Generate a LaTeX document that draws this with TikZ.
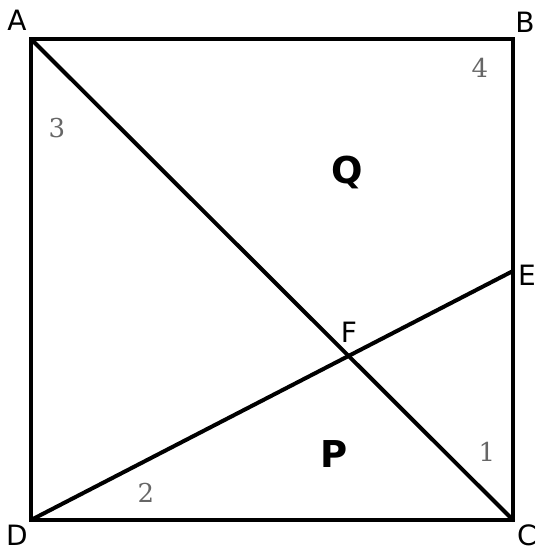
\documentclass[tikz,border=0pt]{standalone}
\usepackage{fontspec}
\setmainfont{DejaVu Sans}
\newfontfamily\numfont{DejaVu Serif}
\usetikzlibrary{calc,intersections}
\definecolor{numgray}{HTML}{666666}
\begin{document}
\begin{tikzpicture}[x=1pt,y=-1pt,
  edge/.style={line width=4pt,line cap=round,line join=miter},
  ptlabel/.style={font=\fontsize{28}{30}\selectfont,inner sep=0pt},
  region/.style={font=\fontsize{37}{40}\selectfont\bfseries,inner sep=0pt},
  anglenum/.style={font=\numfont\fontsize{26}{28}\selectfont,text=numgray,inner sep=0pt}]
\useasboundingbox (0,0) rectangle (550,550);
\coordinate (A) at (31,39);
\coordinate (B) at (513,39);
\coordinate (C) at (513,520);
\coordinate (D) at (31,520);
\coordinate (E) at (513,271);
\draw[edge] (A) -- (B) -- (C) -- (D) -- cycle;
\draw[edge,name path=ac] (A) -- (C);
\draw[edge,name path=de] (D) -- (E);
\path[name intersections={of=ac and de,by=F}];
\node[ptlabel] (lA) at (17,20) {A};
\node[ptlabel] (lB) at (525,22) {B};
\node[ptlabel] (lC) at (527,535) {C};
\node[ptlabel] (lD) at (17,535) {D};
\node[ptlabel] (lE) at (527,275) {E};
\node[ptlabel] (lF) at (349,332) {F};
\node[region] (Q) at (347,172) {Q};
\node[region] (P) at (334,454) {P};
\node[anglenum] (n1) at (487,452) {1};
\node[anglenum] (n2) at (146,493) {2};
\node[anglenum] (n3) at (57,128) {3};
\node[anglenum] (n4) at (480,68) {4};
\end{tikzpicture}
\end{document}
